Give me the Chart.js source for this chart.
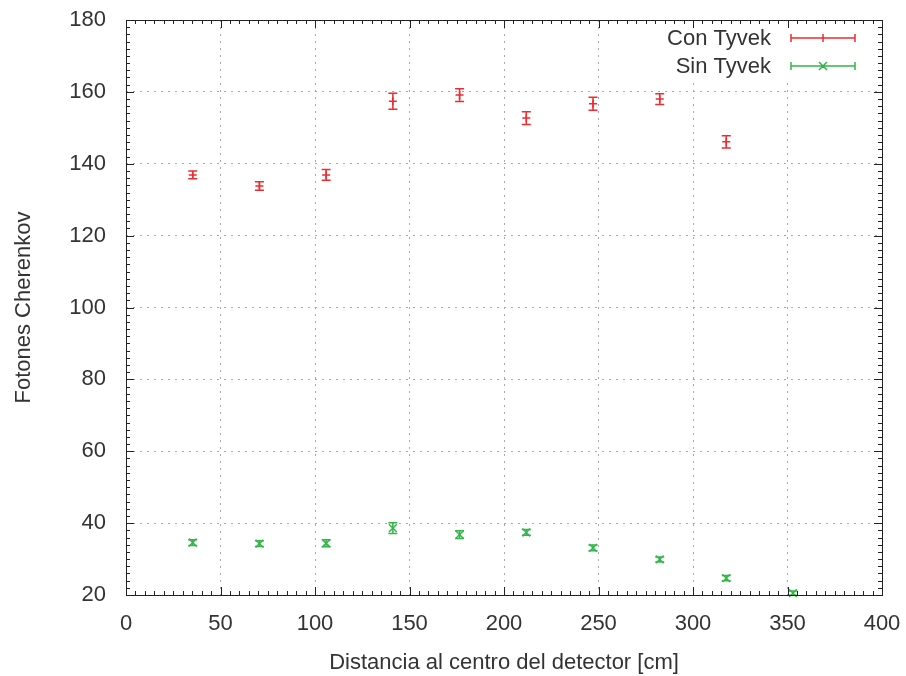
<!DOCTYPE html>
<html>
<head>
<meta charset="utf-8">
<script src="https://cdn.jsdelivr.net/npm/chart.js@4/dist/chart.umd.min.js"></script>
<style>
  html, body { margin: 0; padding: 0; background: #fff; }
  #wrap { width: 906px; height: 676px; }
</style>
</head>
<body>
<div id="wrap"><canvas id="cherenkov-chart"></canvas></div>
<script>
// --Data-- //
const distances = [35.3, 70.6, 105.9, 141.2, 176.5, 211.8, 247.1, 282.4, 317.6, 352.9];
const conTyvek = [136.9, 133.8, 136.9, 157.4, 159.1, 152.7, 156.7, 158.0, 146.1];
const conTyvekErr = [1.1, 1.2, 1.5, 2.2, 1.8, 1.8, 1.8, 1.5, 1.7];
const sinTyvek = [34.6, 34.3, 34.4, 38.6, 36.8, 37.4, 33.1, 29.9, 24.7, 20.5];
const sinTyvekErr = [0.8, 0.8, 1.0, 1.5, 1.1, 0.8, 0.8, 0.7, 0.7, 0.6];
const seriesNames = ['Con Tyvek', 'Sin Tyvek'];

const red = '#ee2b2f';
const green = '#33b54a';
const textColor = '#333333';
const fontFamily = "'Liberation Sans', Arial, sans-serif";
const fontSize = 22;

const toPoints = (ys) => ys.map((y, i) => ({ x: distances[i], y: y }));

// error bars, box with inside ticks and gnuplot style key
const gnuplotBits = {
  id: 'gnuplotBits',
  afterDatasetsDraw(chart) {
    const ctx = chart.ctx;
    const xs = chart.scales.x;
    const ys = chart.scales.y;
    const area = chart.chartArea;
    const errs = [conTyvekErr, sinTyvekErr];

    ctx.save();
    // error bars
    chart.data.datasets.forEach((ds, d) => {
      ctx.strokeStyle = ds.borderColor;
      ctx.lineWidth = 1.5;
      ds.data.forEach((p, i) => {
        const px = xs.getPixelForValue(p.x);
        const top = ys.getPixelForValue(p.y + errs[d][i]);
        const bot = ys.getPixelForValue(p.y - errs[d][i]);
        ctx.beginPath();
        ctx.moveTo(px, top); ctx.lineTo(px, bot);
        ctx.moveTo(px - 4.5, top); ctx.lineTo(px + 4.5, top);
        ctx.moveTo(px - 4.5, bot); ctx.lineTo(px + 4.5, bot);
        ctx.stroke();
      });
    });

    // key (opaque like gnuplot)
    ctx.fillStyle = '#fff';
    ctx.fillRect(650, area.top + 1, 226, 62);
    ctx.font = fontSize + 'px ' + fontFamily;
    ctx.textAlign = 'right';
    ctx.textBaseline = 'middle';
    chart.data.datasets.forEach((ds, d) => {
      const y = 38 + d * 28;
      ctx.fillStyle = textColor;
      ctx.fillText(ds.label, 771, y + 1);
      ctx.strokeStyle = ds.borderColor;
      ctx.lineWidth = 1.5;
      ctx.beginPath();
      ctx.moveTo(791, y); ctx.lineTo(855, y);
      ctx.moveTo(791, y - 4); ctx.lineTo(791, y + 4);
      ctx.moveTo(855, y - 4); ctx.lineTo(855, y + 4);
      if (d === 0) {
        ctx.moveTo(823, y - 4); ctx.lineTo(823, y + 4);
      } else {
        ctx.moveTo(819, y - 4); ctx.lineTo(827, y + 4);
        ctx.moveTo(819, y + 4); ctx.lineTo(827, y - 4);
      }
      ctx.stroke();
    });

    // box
    ctx.strokeStyle = '#222';
    ctx.lineWidth = 1;
    ctx.strokeRect(area.left + 0.5, area.top + 0.5, area.right - area.left, area.bottom - area.top);

    // ticks on all four sides, pointing in
    ctx.beginPath();
    for (let v = 0; v <= 400; v += 5) {
      const len = v % 50 === 0 ? 8 : 4;
      const px = Math.round(xs.getPixelForValue(v)) + 0.5;
      ctx.moveTo(px, area.bottom); ctx.lineTo(px, area.bottom - len);
      ctx.moveTo(px, area.top); ctx.lineTo(px, area.top + len);
    }
    for (let v = 20; v <= 180; v += 2) {
      const len = v % 20 === 0 ? 8 : 4;
      const py = Math.round(ys.getPixelForValue(v)) + 0.5;
      ctx.moveTo(area.left, py); ctx.lineTo(area.left + len, py);
      ctx.moveTo(area.right, py); ctx.lineTo(area.right - len, py);
    }
    ctx.stroke();
    ctx.restore();
  }
};

const cherenkovCanvas = document.getElementById('cherenkov-chart');

const cherenkovChart = new Chart(cherenkovCanvas, {
  type: 'scatter',
  data: {
    datasets: [{
      label: seriesNames[0],
      data: toPoints(conTyvek),
      borderColor: red,
      backgroundColor: red,
      pointStyle: 'cross',
      pointRadius: 4,
      pointBorderWidth: 1.5,
      clip: false
    }, {
      label: seriesNames[1],
      data: toPoints(sinTyvek),
      borderColor: green,
      backgroundColor: green,
      pointStyle: 'crossRot',
      pointRadius: 5.5,
      pointBorderWidth: 1.5,
      clip: false
    }]
  },
  options: {
    responsive: true,
    maintainAspectRatio: false,
    animation: false,
    layout: {
      padding: { top: 20, right: 24, left: 0, bottom: 0 }
    },
    scales: {
      x: {
        type: 'linear',
        min: 0,
        max: 400,
        afterFit: (scale) => {
          scale.height = 81;
          scale.paddingLeft = 0;
          scale.paddingRight = 0;
        },
        ticks: {
          stepSize: 50,
          padding: 16,
          color: textColor,
          font: { family: fontFamily, size: fontSize }
        },
        grid: { color: '#a8a8a8', lineWidth: 1, drawTicks: false },
        border: { display: false, dash: [2, 5] },
        title: {
          display: true,
          text: 'Distancia al centro del detector [cm]',
          color: textColor,
          font: { family: fontFamily, size: fontSize },
          padding: { top: 0, bottom: 0 }
        }
      },
      y: {
        type: 'linear',
        min: 20,
        max: 180,
        afterFit: (scale) => {
          scale.width = 126;
          scale.paddingTop = 0;
          scale.paddingBottom = 0;
        },
        ticks: {
          stepSize: 20,
          padding: 20,
          color: textColor,
          font: { family: fontFamily, size: fontSize }
        },
        grid: { color: '#a8a8a8', lineWidth: 1, drawTicks: false },
        border: { display: false, dash: [2, 5] },
        title: {
          display: true,
          text: 'Fotones Cherenkov',
          color: textColor,
          font: { family: fontFamily, size: fontSize },
          padding: { top: 11, bottom: 0 }
        }
      }
    },
    plugins: {
      legend: { display: false },
      tooltip: { enabled: false }
    }
  },
  plugins: [gnuplotBits]
});
</script>
</body>
</html>
